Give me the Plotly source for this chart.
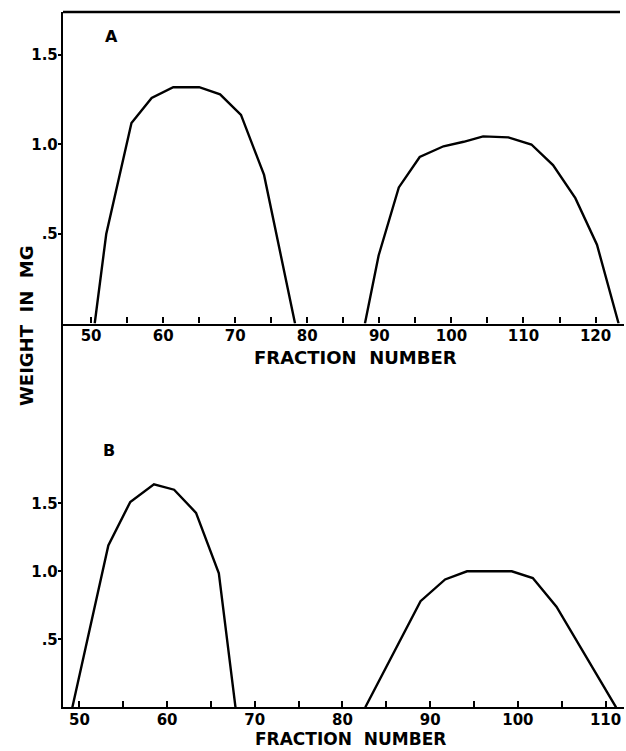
import plotly.graph_objects as go

# Panel A (fraction number vs weight in mg)
a1_x = [50.5, 52.1, 55.6, 58.4, 61.4, 65.0, 67.9, 70.8, 74.0, 78.3]
a1_y = [0.0, 0.50, 1.12, 1.26, 1.32, 1.32, 1.28, 1.165, 0.83, 0.0]
a2_x = [88.0, 89.9, 92.7, 95.6, 98.9, 101.7, 104.4, 107.9, 111.1, 114.1, 117.2, 120.2, 123.2]
a2_y = [0.0, 0.38, 0.76, 0.93, 0.99, 1.015, 1.045, 1.04, 1.00, 0.885, 0.70, 0.44, 0.0]

# Panel B
b1_x = [49.2, 53.3, 55.8, 58.5, 60.8, 63.3, 65.9, 67.8]
b1_y = [0.0, 1.19, 1.51, 1.64, 1.60, 1.43, 0.985, 0.0]
b2_x = [82.6, 88.9, 91.7, 94.2, 99.3, 101.7, 104.4, 111.2]
b2_y = [0.0, 0.78, 0.94, 1.00, 1.00, 0.95, 0.74, 0.0]

# Tick labels
a_tickvals = list(range(50, 121, 5))
a_ticktext = [str(v) if v % 10 == 0 else "" for v in a_tickvals]
b_tickvals = list(range(50, 111, 5))
b_ticktext = [str(v) if v % 10 == 0 else "" for v in b_tickvals]
y_tickvals = [0.5, 1.0, 1.5]
y_ticktext = [".5", "1.0", "1.5"]

W, H = 626, 751
FONT = "DejaVu Sans"

fig = go.Figure()
line = dict(color="black", width=2.4)
fig.add_trace(go.Scatter(x=a1_x, y=a1_y, mode="lines", line=line, xaxis="x", yaxis="y", showlegend=False))
fig.add_trace(go.Scatter(x=a2_x, y=a2_y, mode="lines", line=line, xaxis="x", yaxis="y", showlegend=False))
fig.add_trace(go.Scatter(x=b1_x, y=b1_y, mode="lines", line=line, xaxis="x2", yaxis="y2", showlegend=False))
fig.add_trace(go.Scatter(x=b2_x, y=b2_y, mode="lines", line=line, xaxis="x2", yaxis="y2", showlegend=False))

xdom = [63 / W, 624 / W]
ya_dom = [1 - 323.5 / H, 1 - 12 / H]
yb_dom = [1 - 707.3 / H, 1 - 323.5 / H]

tfont = dict(family=FONT, size=15, color="black", weight="bold")
common_x = dict(showgrid=False, zeroline=False, showline=True, linecolor="black", linewidth=2.4,
                ticks="inside", ticklen=6, tickwidth=1.5, tickcolor="black",
                ticklabelstandoff=-3, tickfont=tfont)
common_y = dict(showgrid=False, zeroline=False, showline=True, linecolor="black", linewidth=2.4,
                ticks="outside", ticklen=3, tickwidth=1.5, tickcolor="black",
                ticklabelstandoff=-3,
                tickvals=y_tickvals, ticktext=y_ticktext, tickfont=tfont)

lab = dict(family=FONT, size=16, color="black", weight="bold")
ttl = dict(family=FONT, size=18, color="black", weight="bold")
ttl_b = dict(family=FONT, size=17, color="black", weight="bold")

fig.update_layout(
    width=W, height=H,
    margin=dict(l=0, r=0, t=0, b=0),
    paper_bgcolor="white", plot_bgcolor="white",
    xaxis=dict(domain=xdom, range=[46.1, 123.95], anchor="y",
               tickvals=a_tickvals, ticktext=a_ticktext, **common_x),
    yaxis=dict(domain=ya_dom, range=[0, 1.740], anchor="x", **common_y),
    xaxis2=dict(domain=xdom, range=[48.13, 112.1], anchor="y2",
                tickvals=b_tickvals, ticktext=b_ticktext, **common_x),
    yaxis2=dict(domain=yb_dom, range=[0, 2.822], anchor="x2", **common_y),
    shapes=[dict(type="line", xref="x domain", yref="y domain", x0=0, x1=(620 - 63) / (624 - 63),
                 y0=1, y1=1, line=dict(color="black", width=2.4))],
    annotations=[
        dict(text="A", x=111 / W, y=1 - 37 / H, xref="paper", yref="paper", showarrow=False,
             font=lab, xanchor="center", yanchor="middle"),
        dict(text="B", x=109 / W, y=1 - 450 / H, xref="paper", yref="paper", showarrow=False,
             font=lab, xanchor="center", yanchor="middle"),
        dict(text="FRACTION  NUMBER", x=355 / W, y=1 - 357 / H, xref="paper", yref="paper", showarrow=False,
             font=ttl, xanchor="center", yanchor="middle"),
        dict(text="FRACTION  NUMBER", x=350 / W, y=1 - 739 / H, xref="paper", yref="paper", showarrow=False,
             font=ttl_b, xanchor="center", yanchor="middle"),
        dict(text="WEIGHT  IN  MG", x=26 / W, y=1 - 326 / H, xref="paper", yref="paper", showarrow=False,
             textangle=-90, font=ttl, xanchor="center", yanchor="middle"),
    ],
)

fig.write_html("out.html")
